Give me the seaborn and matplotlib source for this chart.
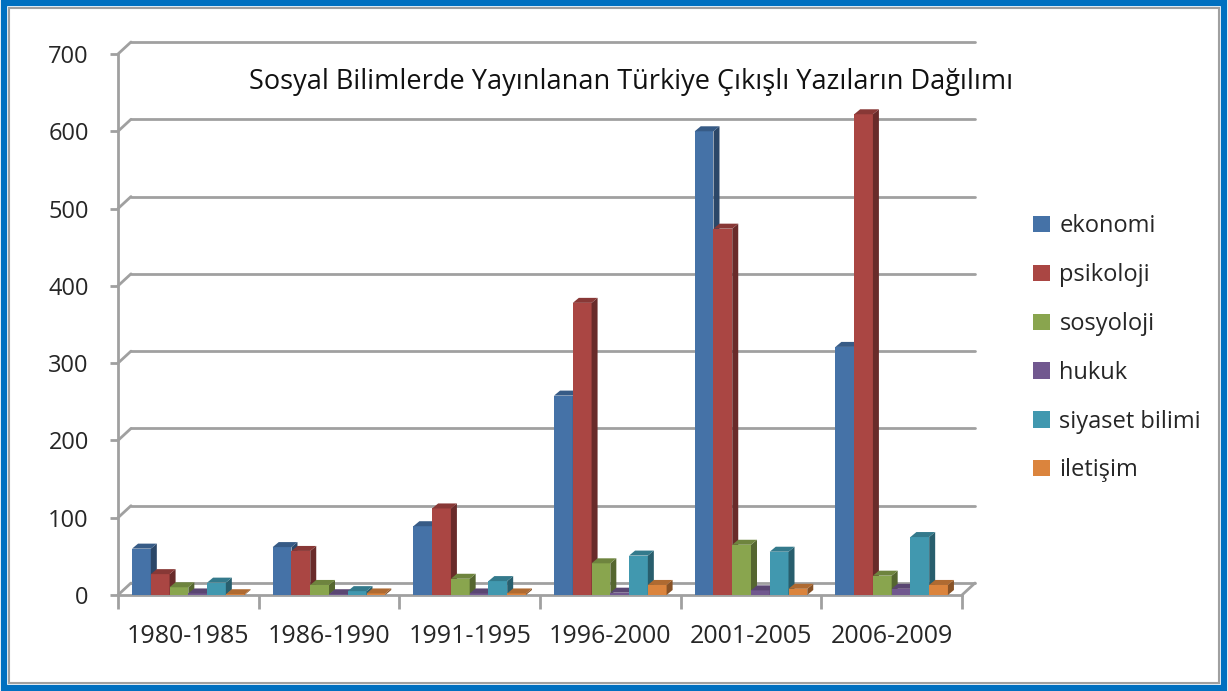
import numpy as np
import pandas as pd
import matplotlib
matplotlib.use("Agg")
import matplotlib.pyplot as plt
import matplotlib.transforms as mtransforms
from matplotlib.patches import Polygon, Rectangle
import seaborn as sns

# data
periods = ["1980-1985", "1986-1990", "1991-1995", "1996-2000", "2001-2005", "2006-2009"]
fields = ["ekonomi", "psikoloji", "sosyoloji", "hukuk", "siyaset bilimi", "iletişim"]
ekonomi = [60, 62, 89, 258, 600, 321]
psikoloji = [27, 57, 112, 378, 474, 622]
sosyoloji = [10, 13, 21, 41, 65, 25]
hukuk = [2, 1, 2, 3, 6, 8]
siyaset = [16, 5, 18, 51, 56, 75]
iletisim = [1, 2, 2, 13, 8, 13]

colors = ["#4572A7", "#AA4643", "#89A54E", "#71588F", "#4198AF", "#DB843D"]

values = [ekonomi, psikoloji, sosyoloji, hukuk, siyaset, iletisim]
rows = []
for f, vals in zip(fields, values):
    for p, v in zip(periods, vals):
        rows.append({"period": p, "field": f, "count": v})
df = pd.DataFrame(rows)

sns.set_style("white")
plt.rcParams["font.family"] = ["Open Sans", "DejaVu Sans"]

W, H = 1228, 691
fig = plt.figure(figsize=(W / 100, H / 100), dpi=100)
ax = fig.add_axes([118 / W, (H - 595) / H, (962 - 118) / W, (595 - 54) / H])

sns.barplot(data=df, x="period", y="count", hue="field", palette=colors,
            saturation=1, width=0.8, ax=ax, legend=False, edgecolor="none")

ax.set_ylim(0, 700)
ax.set_xlim(-0.5, 5.5)

# fake 3D depth on every bar
grey = "#A0A0A0"
dx = 6 / 140.7
dy = 5 / (541 / 700)
n = len(periods)
for i, bar in enumerate(ax.patches):
    k = i // n
    z = 3 + k * 0.1
    bar.set_zorder(z)
    x0 = bar.get_x()
    w = bar.get_width()
    h = bar.get_height()
    c = np.array(matplotlib.colors.to_rgb(bar.get_facecolor()))
    side = Polygon([(x0 + w, 0), (x0 + w + dx, dy), (x0 + w + dx, h + dy), (x0 + w, h)],
                   closed=True, facecolor=c * 0.62, edgecolor="none", zorder=z)
    top = Polygon([(x0, h), (x0 + dx, h + dy), (x0 + w + dx, h + dy), (x0 + w, h)],
                  closed=True, facecolor=c * 0.8, edgecolor="none", zorder=z)
    ax.add_patch(side)
    ax.add_patch(top)

# back wall gridlines and connecting diagonals
off = mtransforms.ScaledTranslation(0.13, 0.12, fig.dpi_scale_trans)
back = ax.get_yaxis_transform() + off
for yv in range(0, 701, 100):
    ax.plot([0, 1], [yv, yv], transform=back, color=grey, lw=2, zorder=1, clip_on=False)
    p0 = ax.get_yaxis_transform().transform((0, yv))
    p1 = back.transform((0, yv))
    fig.add_artist(plt.Line2D([p0[0] / W, p1[0] / W], [p0[1] / H, p1[1] / H],
                              color=grey, lw=2, zorder=1))
# floor right diagonal
p0 = ax.transAxes.transform((1, 0))
p1 = (ax.transAxes + off).transform((1, 0))
fig.add_artist(plt.Line2D([p0[0] / W, p1[0] / W], [p0[1] / H, p1[1] / H], color=grey, lw=2))

for s in ["top", "right"]:
    ax.spines[s].set_visible(False)
for s in ["left", "bottom"]:
    ax.spines[s].set_color(grey)
    ax.spines[s].set_linewidth(2)

ax.set_yticks(range(0, 701, 100))
ax.tick_params(axis="y", length=6, width=2, color=grey, pad=15, labelsize=17, left=True)

ax.set_xticks(np.arange(-0.5, 6, 1))
ax.set_xticklabels([])
ax.tick_params(axis="x", which="major", length=10, width=2, color=grey, bottom=True)
ax.set_xticks(range(n), minor=True)
ax.set_xticklabels(periods, minor=True)
ax.tick_params(axis="x", which="minor", length=0, pad=21, labelsize=18)

ax.set_xlabel("")
ax.set_ylabel("")
ax.patch.set_alpha(0)

fig.text(631 / W, 1 - 82 / H, "Sosyal Bilimlerde Yayınlanan Türkiye Çıkışlı Yazıların Dağılımı",
         ha="center", va="center", fontsize=19.5, color="#111111")

# legend
handles = [Rectangle((0, 0), 1, 1, facecolor=c, edgecolor="none") for c in colors]
fig.legend(handles, fields, loc="upper left", bbox_to_anchor=(1024 / W, 1 - 205 / H),
           frameon=False, fontsize=17, handlelength=0.7, handleheight=0.7,
           handletextpad=0.4, labelspacing=1.05, borderaxespad=0, borderpad=0.4)

# blue frame
fig.add_artist(Rectangle((4 / W, 3 / H), 1 - 8 / W, 1 - 6 / H, transform=fig.transFigure,
                         fill=False, edgecolor="#0070C0", lw=4.5))
fig.add_artist(Rectangle((9 / W, 8 / H), 1 - 18 / W, 1 - 16 / H, transform=fig.transFigure,
                         fill=False, edgecolor="#A0A0A0", lw=1.5))

fig.savefig("out.png", dpi=100)
